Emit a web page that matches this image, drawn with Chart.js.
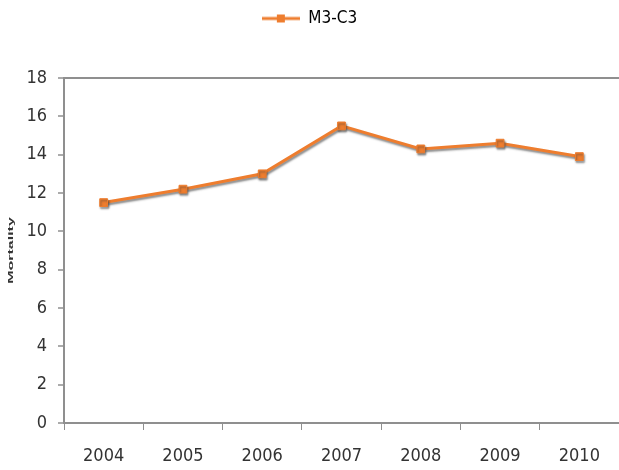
<!DOCTYPE html>
<html>
<head>
<meta charset="utf-8">
<script src="https://cdn.jsdelivr.net/npm/chart.js@4/dist/chart.umd.min.js"></script>
<style>
  html, body { margin: 0; padding: 0; background: #fff; }
  #wrap { width: 619px; height: 470px; }
</style>
</head>
<body>
<div id="wrap"><canvas id="mortality-chart"></canvas></div>
<script>
const years = ['2004', '2005', '2006', '2007', '2008', '2009', '2010']
const mortality = [11.5, 12.2, 13.0, 15.5, 14.3, 14.6, 13.9]
const yTicks = [0, 2, 4, 6, 8, 10, 12, 14, 16, 18]

const orange = '#EE7D2E'
const axisGray = '#8f8f8f'
const fontFamily = "'Liberation Sans Narrow', 'DejaVu Sans Condensed', sans-serif"

// legend sample: short line with a square marker in the middle
function legendSymbol() {
    const c = document.createElement('canvas')
    c.width = 38
    c.height = 10
    const g = c.getContext('2d')
    g.strokeStyle = orange
    g.lineWidth = 3
    g.beginPath()
    g.moveTo(0, 5)
    g.lineTo(38, 5)
    g.stroke()
    g.fillStyle = orange
    g.fillRect(15, 1, 8, 8)
    return c
}

// extra room between legend and plot
const legendGap = {
    id: 'legendGap',
    beforeInit(chart) {
        const fit = chart.legend.fit
        chart.legend.fit = function () {
            fit.bind(chart.legend)()
            this.height += 41
        }
    }
}

// soft gray shadow under the line and markers
const lineShadow = {
    id: 'lineShadow',
    beforeDatasetsDraw(chart) {
        const ctx = chart.ctx
        ctx.save()
        ctx.shadowColor = 'rgba(60, 60, 60, 0.6)'
        ctx.shadowOffsetX = 1
        ctx.shadowOffsetY = 2
        ctx.shadowBlur = 2
    },
    afterDatasetsDraw(chart) {
        chart.ctx.restore()
    }
}

// small stretched axis title on the left
const yTitle = {
    id: 'yTitle',
    afterDraw(chart) {
        const {ctx, chartArea} = chart
        ctx.save()
        ctx.translate(11, (chartArea.top + chartArea.bottom) / 2)
        ctx.rotate(-Math.PI / 2)
        ctx.scale(2.0, 1)
        ctx.font = "bold 8px 'Liberation Sans', sans-serif"
        ctx.fillStyle = '#333'
        ctx.textAlign = 'center'
        ctx.textBaseline = 'middle'
        ctx.fillText('Mortality', 0, 0)
        ctx.restore()
    }
}

new Chart(document.getElementById('mortality-chart'), {
    type: 'line',
    data: {
        labels: years,
        datasets: [{
            label: 'M3-C3',
            data: mortality,
            borderColor: orange,
            backgroundColor: orange,
            borderWidth: 3,
            pointStyle: 'rect',
            pointRadius: 5.5,
            pointBorderWidth: 1,
            pointBorderColor: orange,
            pointBackgroundColor: orange,
            tension: 0
        }]
    },
    options: {
        responsive: true,
        maintainAspectRatio: false,
        animation: false,
        layout: {
            autoPadding: false,
            padding: {top: 4, right: 0, bottom: 0, left: 0}
        },
        plugins: {
            legend: {
                position: 'top',
                labels: {
                    usePointStyle: true,
                    pointStyleWidth: 38,
                    generateLabels: () => [{
                        text: 'M3-C3',
                        pointStyle: legendSymbol(),
                        fillStyle: orange,
                        strokeStyle: orange,
                        lineWidth: 0,
                        datasetIndex: 0
                    }],
                    color: '#333',
                    font: {family: fontFamily, size: 17},
                    padding: 6
                }
            },
            tooltip: {enabled: false}
        },
        scales: {
            x: {
                offset: true,
                afterFit: scale => {
                    scale.paddingLeft = 0
                    scale.paddingRight = 0
                    scale.height = 47
                },
                grid: {
                    offset: true,
                    drawOnChartArea: false,
                    color: axisGray,
                    tickLength: 7
                },
                border: {color: axisGray, width: 2},
                ticks: {
                    color: '#333',
                    font: {family: fontFamily, size: 18},
                    padding: 16,
                    maxRotation: 0
                }
            },
            y: {
                min: 0,
                max: 18,
                afterBuildTicks: scale => {
                    scale.ticks = yTicks.map(v => ({value: v}))
                },
                afterFit: scale => {
                    scale.width = 64
                },
                grid: {
                    drawOnChartArea: true,
                    color: ctx => ctx.tick && ctx.tick.value === 18 ? axisGray : 'rgba(0,0,0,0)',
                    lineWidth: 2,
                    tickColor: axisGray,
                    tickWidth: 1.5,
                    tickLength: 6
                },
                border: {color: axisGray, width: 2},
                ticks: {
                    color: '#333',
                    font: {family: fontFamily, size: 18},
                    padding: 11
                }
            }
        }
    },
    plugins: [legendGap, lineShadow, yTitle]
})
</script>
</body>
</html>
